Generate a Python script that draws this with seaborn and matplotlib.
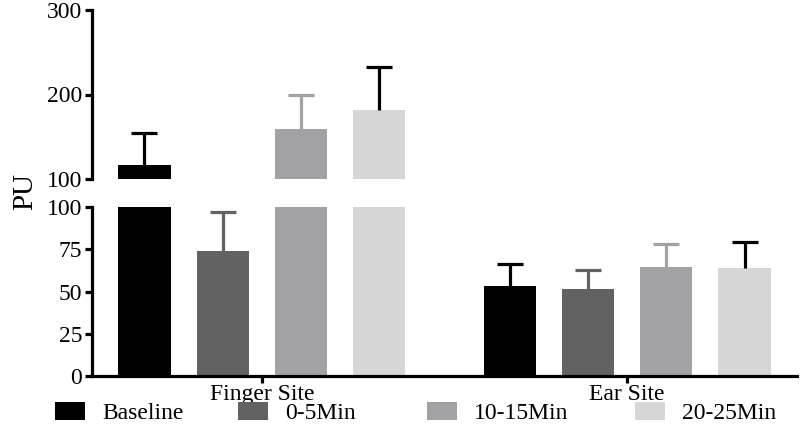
import numpy as np
import pandas as pd
import matplotlib
matplotlib.use("Agg")
import matplotlib.pyplot as plt
import seaborn as sns
from matplotlib.patches import Patch
from matplotlib.container import BarContainer

sites = ["Finger Site", "Ear Site"]
conditions = ["Baseline", "0-5Min", "10-15Min", "20-25Min"]
finger_means = [116.5, 74, 159, 181.5]
finger_sd = [37.5, 23, 40.5, 51]
ear_means = [53, 51.5, 64.5, 64]
ear_sd = [13.5, 11, 13.5, 15.5]

bar_colors = ["#000000", "#626262", "#a2a2a5", "#d6d6d6"]
err_colors = ["#000000", "#626262", "#a2a2a5", "#000000"]

rows = []
for c, fm, fs, em, es in zip(conditions, finger_means, finger_sd, ear_means, ear_sd):
    rows.append(dict(site=sites[0], condition=c, value=fm, sd=fs))
    rows.append(dict(site=sites[1], condition=c, value=em, sd=es))
df = pd.DataFrame(rows)

sns.set_style("ticks", {"axes.edgecolor": "black", "text.color": "black",
                        "xtick.color": "black", "ytick.color": "black"})
plt.rcParams["font.family"] = ["Liberation Serif", "DejaVu Serif"]
plt.rcParams["text.color"] = "black"
plt.rcParams["xtick.labelcolor"] = "black"
plt.rcParams["ytick.labelcolor"] = "black"

fig = plt.figure(figsize=(8, 4.29), dpi=100)
W, H = 800, 429
left = 92 / W
width = (797 - 92) / W
ax_top = fig.add_axes([left, 1 - 179 / H, width, (179 - 10) / H])
ax_bot = fig.add_axes([left, 1 - 376 / H, width, (376 - 207) / H])

LW = 2.3
for ax in (ax_top, ax_bot):
    sns.barplot(data=df, x="site", y="value", hue="condition", order=sites,
                hue_order=conditions, palette=bar_colors, width=0.857, gap=0.333,
                errorbar=None, saturation=1, legend=False, ax=ax, linewidth=0)
    bar_conts = [c for c in ax.containers if isinstance(c, BarContainer)]
    for i, cont in enumerate(bar_conts):
        xs = [b.get_x() + b.get_width() / 2 for b in cont]
        ys = [b.get_height() for b in cont]
        sub = df[df.condition == conditions[i]].set_index("site").loc[sites]
        errs = sub["sd"].values
        eb = ax.errorbar(xs, ys, yerr=[np.zeros(len(errs)), errs], fmt="none",
                         ecolor=err_colors[i], elinewidth=LW, capsize=9.5,
                         capthick=LW, zorder=1)
        caps = eb.lines[1]
        if len(caps) == 2:
            caps[0].set_visible(False)
    ax.set_xlim(-0.465, 1.465)
    ax.set_ylabel("")
    ax.set_xlabel("")
    for s in ("top", "right"):
        ax.spines[s].set_visible(False)
    ax.spines["left"].set_linewidth(LW)
    ax.spines["bottom"].set_linewidth(LW)
    ax.spines["left"].set_color("black")
    ax.spines["bottom"].set_color("black")
    ax.tick_params(axis="y", width=LW, length=5, pad=2, labelsize=17,
                   color="black", labelcolor="black")
    ax.tick_params(axis="x", width=LW, length=5, pad=1, labelsize=17,
                   color="black", labelcolor="black")

ax_top.set_ylim(100, 300)
ax_top.set_yticks([100, 200, 300])
ax_top.spines["bottom"].set_visible(False)
ax_top.tick_params(axis="x", bottom=False, labelbottom=False)

ax_bot.set_ylim(0, 100)
ax_bot.set_yticks([0, 25, 50, 75, 100])

fig.text(25 / W, 1 - 192 / H, "PU", rotation=90, fontsize=21, va="center",
         ha="center", color="black")

legend_x = [55, 238, 427, 635]
for c, col, lx in zip(conditions, bar_colors, legend_x):
    leg = fig.legend([Patch(facecolor=col, edgecolor="none")], [c], loc="center left",
                     bbox_to_anchor=(lx / W, 1 - 413 / H), frameon=False, fontsize=17,
                     handlelength=1.25, handleheight=0.8, handletextpad=0.75,
                     borderaxespad=0, borderpad=0, labelcolor="black")

fig.savefig("out.png", dpi=100)
